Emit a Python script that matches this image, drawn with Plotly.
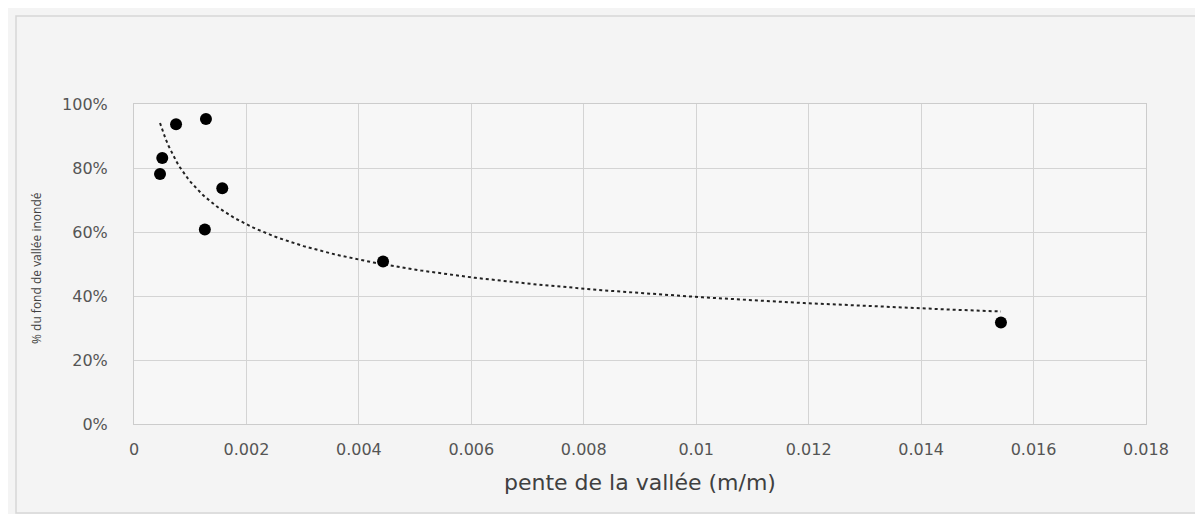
import numpy as np
import plotly.graph_objects as go

# Data
pente = [0.000463, 0.000503, 0.000748, 0.00128, 0.00157, 0.00126, 0.00443, 0.01542]
inonde = [0.781, 0.831, 0.937, 0.953, 0.737, 0.608, 0.508, 0.317]

x_tick_vals = [0, 0.002, 0.004, 0.006, 0.008, 0.01, 0.012, 0.014, 0.016, 0.018]
x_tick_text = ["0", "0.002", "0.004", "0.006", "0.008", "0.01", "0.012", "0.014", "0.016", "0.018"]
y_tick_vals = [0, 0.2, 0.4, 0.6, 0.8, 1.0]
y_tick_text = ["0%", "20%", "40%", "60%", "80%", "100%"]

# Power trendline (Excel style) fitted to the data
lx = np.log(np.array(pente))
ly = np.log(np.array(inonde))
b, lna = np.polyfit(lx, ly, 1)
xt = np.linspace(min(pente), max(pente), 300)
yt = np.exp(lna) * xt ** b

W, H = 1203, 514
OFF = 7  # page offset
L, R, T, B = 133 - OFF, 58 + OFF, 103 - OFF, 91 + OFF
pw = W - L - R
ph = H - T - B


def px(xp):
    return (xp - OFF - L) / pw


def py(yp):
    return (H - B - (yp - OFF)) / ph


fig = go.Figure()
fig.add_trace(go.Scatter(x=xt, y=yt, mode="lines",
                         line=dict(color="#222222", width=2, dash="dot"),
                         showlegend=False, hoverinfo="skip"))
fig.add_trace(go.Scatter(x=pente, y=inonde, mode="markers",
                         marker=dict(color="#000000", size=12, symbol="circle"),
                         showlegend=False))

tick_font = dict(family="DejaVu Sans, sans-serif", size=16, color="#555555")

fig.update_layout(
    width=W, height=H,
    margin=dict(l=L, r=R, t=T, b=B),
    paper_bgcolor="#f4f4f4",
    plot_bgcolor="#f7f7f7",
    xaxis=dict(range=[0, 0.018], tickvals=x_tick_vals, ticktext=x_tick_text,
               showgrid=True, gridcolor="#d4d4d4", gridwidth=1,
               zeroline=False, showline=True, linecolor="#cccccc", mirror=True,
               ticks="", tickfont=tick_font, ticklabelstandoff=11),
    yaxis=dict(range=[0, 1.0], tickvals=y_tick_vals, ticktext=y_tick_text,
               showgrid=True, gridcolor="#d4d4d4", gridwidth=1,
               zeroline=False, showline=True, linecolor="#cccccc", mirror=True,
               ticks="", tickfont=tick_font, ticklabelstandoff=22),
    shapes=[dict(type="rect", xref="paper", yref="paper",
                 x0=px(15), x1=px(1200), y0=py(512), y1=py(15),
                 line=dict(color="#d6d6d6", width=1.5), layer="below")],
    annotations=[
        dict(text="pente de la vallée (m/m)", xref="paper", yref="paper",
             x=px(639), y=py(481),
             xanchor="center", yanchor="middle", showarrow=False,
             font=dict(family="DejaVu Sans, sans-serif", size=22, color="#404040")),
        dict(text="% du fond de vallée inondé", xref="paper", yref="paper",
             x=px(35), y=py(267),
             xanchor="center", yanchor="middle", textangle=-90, showarrow=False,
             font=dict(family="Open Sans, sans-serif", size=12, color="#404040")),
    ],
)

fig.write_html("out.html")
